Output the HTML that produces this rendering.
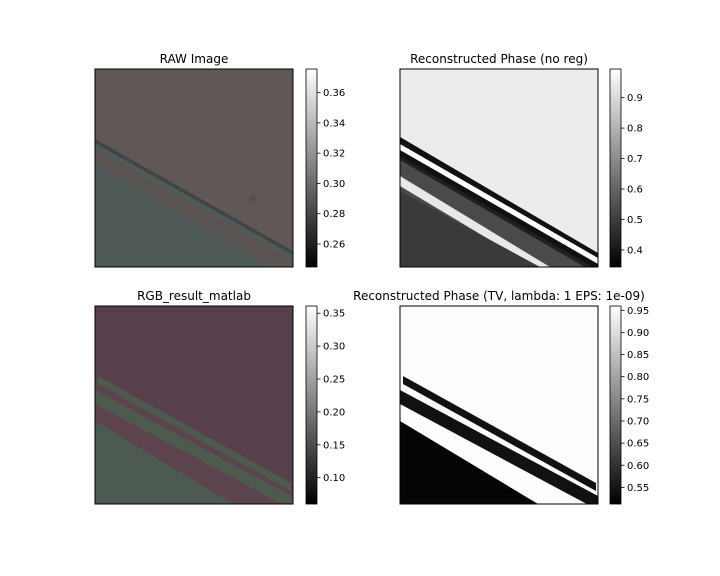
<!DOCTYPE html>
<html><head><meta charset="utf-8"><style>
body{margin:0;background:#fff;}
svg{display:block;font-family:"DejaVu Sans","Liberation Sans",sans-serif;}
</style></head><body>
<svg id="fig" width="720" height="576" viewBox="0 0 720 576">
<defs>
<linearGradient id="gray" x1="0" y1="1" x2="0" y2="0"><stop offset="0" stop-color="#000"/><stop offset="1" stop-color="#fff"/></linearGradient>
<clipPath id="c"><rect x="0" y="0" width="198" height="198"/></clipPath>
</defs>
<text x="194" y="63" font-size="12" text-anchor="middle">RAW Image</text>
<text x="499" y="63" font-size="12" text-anchor="middle">Reconstructed Phase (no reg)</text>
<text x="194" y="300" font-size="12" text-anchor="middle">RGB_result_matlab</text>
<text x="499" y="300" font-size="12" text-anchor="middle">Reconstructed Phase (TV, lambda: 1 EPS: 1e-09)</text>

<g transform="translate(95,69)" clip-path="url(#c)">
<rect width="198" height="198" fill="#605857"/>
<polygon points="0,70 198,182 198,198 0,198" fill="#3f4645"/>
<polygon points="0,74 198,186 198,198 0,198" fill="#525a58"/>
<polygon points="0,80 198,192 198,198 0,198" fill="#5a5553"/>
<polygon points="0,95 175,198 0,198" fill="#4f5957"/>
<circle cx="158" cy="130" r="4" fill="#575050"/>
</g>
<rect x="95" y="69" width="198" height="198" fill="none" stroke="#000" stroke-width="1"/>

<g transform="translate(400,69)" clip-path="url(#c)">
<rect width="198" height="198" fill="#ececec"/>
<polygon points="0,68 198,184 198,198 0,198" fill="#111"/>
<polygon points="0,75 198,189 198,195 0,81" fill="#fff"/>
<polygon points="0,87 198,201 0,201" fill="#202020"/>
<polygon points="0,91 190,201 0,201" fill="#4a4a4a"/>
<polygon points="0,107 150,198 135,198 0,117" fill="#e8e8e8"/>
<polygon points="0,122 140,198 0,198" fill="#3a3a3a"/>
</g>
<rect x="400" y="69" width="198" height="198" fill="none" stroke="#000"/>

<g transform="translate(95,306)" clip-path="url(#c)">
<rect width="198" height="198" fill="#573f4c"/>
<polygon points="0,70 198,183 198,198 0,198" fill="#5d434e"/>
<polygon points="3,70 196,177 196,185 3,78" fill="#4e5a4e"/>
<polygon points="0,84 198,191 198,204 0,98" fill="#4e5a4e"/>
<polygon points="0,115 138,198 0,198" fill="#4d5a52"/>
</g>
<rect x="95" y="306" width="198" height="198" fill="none" stroke="#000"/>

<g transform="translate(400,306)" clip-path="url(#c)">
<rect width="198" height="198" fill="#fdfdfd"/>
<polygon points="3,70 196,177 196,185 3,78" fill="#111"/>
<polygon points="0,84 198,190 198,204 0,98" fill="#111"/>
<polygon points="0,115 138,198 0,198" fill="#050505"/>
</g>
<rect x="400" y="306" width="198" height="198" fill="none" stroke="#000"/>
<g id="bars"></g>
</svg>
<script>
const cbX = [306, 610, 306, 610];
const cbY = [69, 69, 306, 306];
const cbMin = [0.2448, 0.344, 0.060, 0.5125];
const cbMax = [0.3756, 0.994, 0.361, 0.9596];
const ticks0 = [0.26, 0.28, 0.30, 0.32, 0.34, 0.36];
const ticks1 = [0.4, 0.5, 0.6, 0.7, 0.8, 0.9];
const ticks2 = [0.10, 0.15, 0.20, 0.25, 0.30, 0.35];
const ticks3 = [0.55, 0.60, 0.65, 0.70, 0.75, 0.80, 0.85, 0.90, 0.95];
const tickSets = [ticks0, ticks1, ticks2, ticks3];
const decimals = [2, 1, 2, 2];
const names = ['raw', 'noreg', 'rgb', 'tv'];
const NS = 'http://www.w3.org/2000/svg';
const g = document.getElementById('bars');
const W = 11, H = 198;
for (let i = 0; i < 4; i++) {
  const yScale = v => cbY[i] + H - (v - cbMin[i]) / (cbMax[i] - cbMin[i]) * H;
  const r = document.createElementNS(NS, 'rect');
  r.setAttribute('x', cbX[i]); r.setAttribute('y', cbY[i]);
  r.setAttribute('width', W); r.setAttribute('height', H);
  r.setAttribute('fill', 'url(#gray)'); r.setAttribute('stroke', '#000'); r.setAttribute('stroke-width', '0.8');
  
  
  g.appendChild(r);
  tickSets[i].forEach(v => {
    const y = yScale(v);
    const l = document.createElementNS(NS, 'line');
    l.setAttribute('x1', cbX[i] + W); l.setAttribute('x2', cbX[i] + W + 3.5);
    l.setAttribute('y1', y); l.setAttribute('y2', y);
    l.setAttribute('stroke', '#000'); l.setAttribute('stroke-width', '0.8');
    
    
    g.appendChild(l);
    const t = document.createElementNS(NS, 'text');
    t.setAttribute('x', cbX[i] + W + 6); t.setAttribute('y', y + 3.5);
    t.setAttribute('font-size', '10');
    t.textContent = v.toFixed(decimals[i]);
    
    
    g.appendChild(t);
  });
}
</script>
</body></html>
